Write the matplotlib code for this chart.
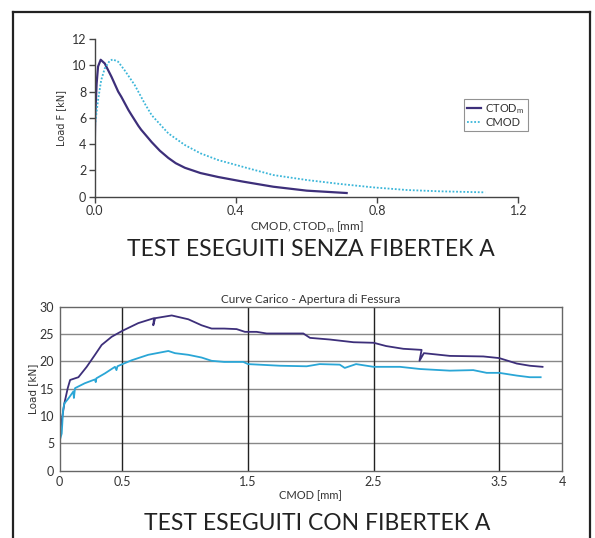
import matplotlib
matplotlib.use("Agg")
import matplotlib.pyplot as plt
from matplotlib.lines import Line2D

plt.rcParams['font.family'] = ['Lato', 'DejaVu Sans']

# ---------------- data: top chart (without fibres) ----------------
ctod_x = [0.0, 0.0006, 0.002, 0.006, 0.010, 0.0175, 0.029, 0.048, 0.067, 0.076,
          0.096, 0.104, 0.124, 0.132, 0.151, 0.162, 0.185, 0.209, 0.23, 0.256,
          0.30, 0.35, 0.42, 0.506, 0.601, 0.714]
ctod_y = [0.5, 3.55, 6.08, 8.6, 9.9, 10.42, 10.14, 9.13, 8.0, 7.6,
          6.6, 6.25, 5.4, 5.1, 4.5, 4.15, 3.5, 2.95, 2.55, 2.2,
          1.8, 1.5, 1.15, 0.76, 0.46, 0.28]

cmod_x = [0.0, 0.002, 0.010, 0.019, 0.029, 0.043, 0.052, 0.067, 0.085, 0.114,
          0.142, 0.162, 0.209, 0.256, 0.30, 0.35, 0.43, 0.506, 0.601, 0.695,
          0.789, 0.884, 0.978, 1.106]
cmod_y = [4.3, 5.58, 7.35, 8.87, 9.76, 10.34, 10.45, 10.27, 9.63, 8.49,
          7.1, 6.2, 4.82, 3.93, 3.3, 2.79, 2.2, 1.65, 1.27, 0.97,
          0.71, 0.51, 0.41, 0.33]

top_xticks = [0.0, 0.4, 0.8, 1.2]
top_xticklabels = ["0.0", "0.4", "0.8", "1.2"]
top_yticks = [0, 2, 4, 6, 8, 10, 12]

# ---------------- data: bottom chart (with fibres) ----------------
purple_x = [0.0, 0.037, 0.064, 0.083, 0.149, 0.215, 0.281, 0.334, 0.414, 0.5,
            0.626, 0.751, 0.745, 0.76, 0.892, 1.024, 1.13, 1.21, 1.31, 1.409,
            1.475, 1.568, 1.648, 1.94, 1.993, 2.15, 2.34, 2.5, 2.60, 2.736,
            2.882, 2.865, 2.90, 3.107, 3.373, 3.5, 3.64, 3.744, 3.845]
purple_y = [6.8, 12.3, 15.1, 16.6, 17.1, 19.0, 21.2, 23.0, 24.5, 25.6,
            27.0, 27.9, 26.6, 27.9, 28.4, 27.7, 26.6, 26.0, 26.0, 25.9,
            25.4, 25.4, 25.1, 25.1, 24.3, 24.0, 23.5, 23.4, 22.8, 22.3,
            22.1, 20.1, 21.5, 21.0, 20.9, 20.6, 19.6, 19.2, 19.0]

cyan_x = [0.0, 0.016, 0.027, 0.037, 0.069, 0.109, 0.113, 0.122, 0.2, 0.281,
          0.287, 0.292, 0.36, 0.44, 0.452, 0.46, 0.5, 0.573, 0.705, 0.865,
          0.918, 1.024, 1.13, 1.21, 1.31, 1.462, 1.5, 1.754, 1.967, 2.07,
          2.23, 2.27, 2.36, 2.5, 2.71, 2.87, 3.107, 3.293, 3.4, 3.5,
          3.64, 3.744, 3.83]
cyan_y = [5.5, 6.8, 11.1, 12.3, 13.2, 14.5, 13.3, 15.1, 16.0, 16.7,
          16.2, 16.9, 17.8, 19.0, 18.4, 19.1, 19.5, 20.2, 21.2, 21.9,
          21.5, 21.2, 20.7, 20.1, 19.9, 19.9, 19.5, 19.2, 19.1, 19.5,
          19.4, 18.8, 19.5, 19.0, 19.0, 18.6, 18.3, 18.4, 17.9, 17.9,
          17.4, 17.1, 17.1]

bot_xticks = [0, 0.5, 1.5, 2.5, 3.5, 4]
bot_xticklabels = ["0", "0.5", "1.5", "2.5", "3.5", "4"]
bot_yticks = [0, 5, 10, 15, 20, 25, 30]
vgrid = [0.5, 1.5, 2.5, 3.5]

PURPLE = "#3d2f7a"
CYAN = "#2aa6d6"
CYAN_DOT = "#3bb6d9"
TXT = "#333333"

W, H = 595, 538
fig = plt.figure(figsize=(W / 100, H / 100), dpi=100)
fig.patch.set_facecolor("white")

# outer frame
fig.add_artist(Line2D([13 / W, 13 / W], [0, (H - 12) / H], color="#222222", lw=1.6))
fig.add_artist(Line2D([590 / W, 590 / W], [0, (H - 12) / H], color="#222222", lw=1.6))
fig.add_artist(Line2D([13 / W, 590 / W], [(H - 12) / H, (H - 12) / H], color="#222222", lw=1.6))

# ---------------- top axes ----------------
ax1 = fig.add_axes([94.5 / W, (H - 196.7) / H, 423.8 / W, 157.7 / H])
ax1.plot(ctod_x, ctod_y, color=PURPLE, lw=1.6, label="CTOD$_\\mathregular{m}$")
ax1.plot(cmod_x, cmod_y, color=CYAN_DOT, lw=1.3, ls=(0, (1, 1)), label="CMOD")
ax1.set_xlim(0, 1.2)
ax1.set_ylim(0, 12)
for s in ["top", "right"]:
    ax1.spines[s].set_visible(False)
for s in ["left", "bottom"]:
    ax1.spines[s].set_color("#444444")
    ax1.spines[s].set_linewidth(1.0)
ax1.set_xticks(top_xticks)
ax1.set_xticklabels(top_xticklabels)
ax1.set_yticks(top_yticks)
ax1.tick_params(axis="both", labelsize=9, colors="#444444", labelcolor=TXT,
                length=4, width=1.0, pad=2)
ax1.set_xlabel("CMOD, CTOD$_\\mathregular{m}$ [mm]", fontsize=8.5, color=TXT, labelpad=2)
ax1.set_ylabel("Load F [kN]", fontsize=7, color=TXT, labelpad=4,
               family=["Liberation Sans Narrow", "DejaVu Sans"])
leg = ax1.legend(loc="upper left", bbox_to_anchor=(369.5 / 423.8, (196.7 - 99) / 157.7),
                 fontsize=8, frameon=True, fancybox=False, handlelength=1.2,
                 handletextpad=0.4, borderpad=0.3, labelspacing=0.05, borderaxespad=0)
leg.get_frame().set_edgecolor("#777777")
leg.get_frame().set_linewidth(0.8)
for t in leg.get_texts():
    t.set_color(TXT)

fig.text(311 / W, (H - 249) / H, "TEST ESEGUITI SENZA FIBERTEK A",
         ha="center", va="center", fontsize=16.5, color="#222222")

# ---------------- bottom axes ----------------
ax2 = fig.add_axes([59.7 / W, (H - 470.7) / H, 502.3 / W, 164 / H])
ax2.plot(purple_x, purple_y, color=PURPLE, lw=1.3)
ax2.plot(cyan_x, cyan_y, color=CYAN, lw=1.3)
ax2.set_xlim(0, 4)
ax2.set_ylim(0, 30)
ax2.set_xticks(bot_xticks)
ax2.set_xticklabels(bot_xticklabels)
ax2.set_yticks(bot_yticks)
for y in bot_yticks[1:-1]:
    ax2.axhline(y, color="#888888", lw=1.0, zorder=0)
for x in vgrid:
    ax2.axvline(x, color="#222222", lw=1.0, zorder=0)
for s in ax2.spines.values():
    s.set_color("#666666")
    s.set_linewidth(1.0)
ax2.tick_params(axis="both", labelsize=9, length=0, labelcolor=TXT, pad=4)
ax2.set_xlabel("CMOD [mm]", fontsize=8, color=TXT, labelpad=1)
ax2.set_ylabel("Load [kN]", fontsize=7.5, color=TXT, labelpad=1,
               family=["Liberation Sans Narrow", "DejaVu Sans"])
ax2.set_title("Curve Carico - Apertura di Fessura", fontsize=8.5, color=TXT, pad=3)

fig.text(317 / W, (H - 524) / H, "TEST ESEGUITI CON FIBERTEK A",
         ha="center", va="center", fontsize=16.5, color="#222222")

fig.savefig("out.png", dpi=100)
